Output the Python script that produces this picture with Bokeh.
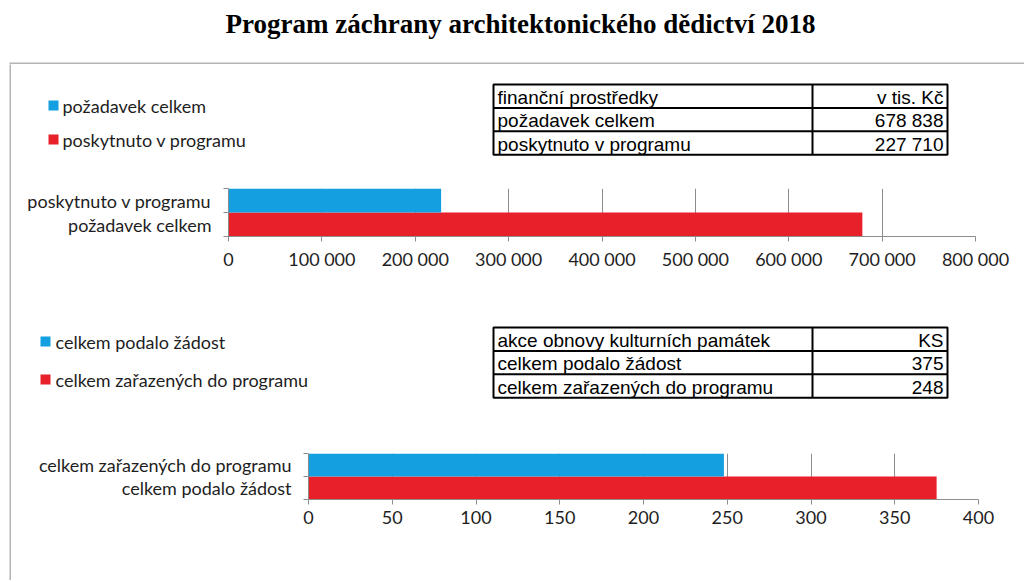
from bokeh.plotting import figure
from bokeh.layouts import column, row
from bokeh.models import Range1d, FixedTicker
from bokeh.core.properties import value
from bokeh.embed import file_html
from bokeh.resources import INLINE

# ---------------- data ----------------
TITLE = "Program záchrany architektonického dědictví 2018"

fin_categories = ["požadavek celkem", "poskytnuto v programu"]
fin_values = [678838, 227710]
fin_ticks = [0, 100000, 200000, 300000, 400000, 500000, 600000, 700000, 800000]
fin_legend = ["požadavek celkem", "poskytnuto v programu"]
fin_table_header = ["finanční prostředky", "v tis. Kč"]

ks_categories = ["celkem podalo žádost", "celkem zařazených do programu"]
ks_values = [375, 248]
ks_ticks = [0, 50, 100, 150, 200, 250, 300, 350, 400]
ks_legend = ["celkem podalo žádost", "celkem zařazených do programu"]
ks_table_header = ["akce obnovy kulturních památek", "KS"]

# ---------------- style ----------------
BLUE = "#139fe0"
RED = "#e8202a"
GRID = "#8c8c8c"
FRAME = "#b4b4b4"
LABEL_FONT = "Lato"
TABLE_FONT = "Liberation Sans"
LABEL_SIZE = "18px"
TABLE_SIZE = "19px"
TEXT_COLOR = "#1e1e1e"

W = 1024   # total layout width  (page px)
H = 580    # total layout height (page px)
X_IN = 11  # x where the content column starts (right of the frame line)
Y_TOP = 64  # y where the body starts (below the frame top line)


def fmt(v):
    return f"{v:,}".replace(",", " ")


def panel(x0, x1, y0, y1, fill="white"):
    p = figure(width=int(x1 - x0), height=int(y1 - y0),
               x_range=Range1d(x0, x1), y_range=Range1d(y1, y0),
               x_axis_type=None, y_axis_type=None, min_border=0,
               toolbar_location=None, output_backend="svg")
    p.grid.visible = False
    p.outline_line_color = None
    p.background_fill_color = fill
    p.border_fill_color = fill
    return p


def draw_legend(p, x_sq, x_txt, ys, labels):
    cols = [BLUE, RED]
    p.rect(x=[x_sq] * 2, y=ys, width=10, height=10, color=cols, line_color=None)
    p.text(x=[x_txt] * 2, y=ys, text=labels, text_baseline="middle",
           text_font=value(LABEL_FONT), text_font_size=LABEL_SIZE, text_color=TEXT_COLOR)


def draw_table(p, left, mid, right, top, row_h, header, cats, vals):
    ys = [top + row_h * i for i in range(4)]
    bottom = ys[-1]
    p.quad(left=left, right=right, top=top, bottom=bottom, fill_color=None,
           line_color="black", line_width=2)
    p.segment(x0=[left, left, mid], y0=[ys[1], ys[2], top],
              x1=[right, right, mid], y1=[ys[1], ys[2], bottom],
              line_color="black", line_width=2)
    lefts = [header[0]] + list(cats)
    rights = [header[1]] + [fmt(v) for v in vals]
    cy = [top + row_h * (i + 0.5) + 1 for i in range(3)]
    p.text(x=[left + 4] * 3, y=cy, text=lefts, text_baseline="middle",
           text_font=value(TABLE_FONT), text_font_size=TABLE_SIZE, text_color="black")
    p.text(x=[right - 4] * 3, y=cy, text=rights, text_baseline="middle", text_align="right",
           text_font=value(TABLE_FONT), text_font_size=TABLE_SIZE, text_color="black")


def bar_fig(cats, vals, ticks, frame_left, frame_right, y0, frame_bottom, y1):
    p = figure(width=W - X_IN, height=int(y1 - y0),
               x_range=Range1d(0, ticks[-1]), y_range=Range1d(0, len(cats)),
               min_border_left=frame_left - X_IN, min_border_right=W - frame_right,
               min_border_top=0, min_border_bottom=int(y1 - frame_bottom),
               toolbar_location=None, output_backend="svg")
    p.outline_line_color = None
    p.ygrid.visible = False
    p.xgrid.ticker = FixedTicker(ticks=ticks)
    p.xgrid.grid_line_color = GRID
    p.xgrid.grid_line_width = 1
    n = len(cats)
    ypos = [i + 0.5 for i in range(n)]
    p.hbar(y=ypos, left=0, right=vals, height=1.0, color=[RED, BLUE], line_color=None)

    xa = p.xaxis[0]
    xa.ticker = FixedTicker(ticks=ticks)
    xa.major_label_overrides = {t: fmt(t) for t in ticks}
    xa.axis_line_color = GRID
    xa.major_tick_line_color = GRID
    xa.major_tick_out = 5
    xa.major_tick_in = 0
    xa.minor_tick_line_color = None
    xa.major_label_standoff = 6
    xa.major_label_text_font = LABEL_FONT
    xa.major_label_text_font_size = LABEL_SIZE
    xa.major_label_text_color = TEXT_COLOR

    ya = p.yaxis[0]
    ya.ticker = FixedTicker(ticks=ypos, minor_ticks=list(range(n + 1)))
    ya.major_label_overrides = {yp: c for yp, c in zip(ypos, cats)}
    ya.axis_line_color = GRID
    ya.major_tick_line_color = None
    ya.major_tick_out = 0
    ya.major_tick_in = 0
    ya.minor_tick_line_color = GRID
    ya.minor_tick_out = 5
    ya.minor_tick_in = 0
    ya.major_label_standoff = 12
    ya.major_label_text_font = LABEL_FONT
    ya.major_label_text_font_size = LABEL_SIZE
    ya.major_label_text_color = TEXT_COLOR
    return p


# ---------------- layout positions (page px) ----------------
Y_BAR1_TOP, Y_BAR1_BOTTOM, Y_MID = 188, 236, 300
Y_BAR2_TOP, Y_BAR2_BOTTOM, Y_END = 453, 499, H

# title + top frame line
head = panel(0, W, 0, Y_TOP)
head.text(x=[520], y=[23], text=[TITLE], text_align="center", text_baseline="middle",
          text_font=value("Liberation Serif"), text_font_style="bold",
          text_font_size="27px", text_color="black")
head.segment(x0=[9], y0=[63], x1=[W], y1=[63], line_color=FRAME, line_width=2)

# left frame line (a filled 2px strip) with white pad on its left
pad = panel(0, 9, Y_TOP, H)
vline = panel(9, X_IN, Y_TOP, H, fill=FRAME)

# content column (each plot wrapped on its own so that frames are not aligned)
top_panel = panel(X_IN, W, Y_TOP, Y_BAR1_TOP)
draw_legend(top_panel, 53, 62, [105, 139], fin_legend)
draw_table(top_panel, 493, 812, 947, 84, 23.4, fin_table_header, fin_categories, fin_values)

bar1 = bar_fig(fin_categories, fin_values, fin_ticks, 228, 975, Y_BAR1_TOP, Y_BAR1_BOTTOM, Y_MID)

mid = panel(X_IN, W, Y_MID, Y_BAR2_TOP)
draw_legend(mid, 45, 55, [341, 379], ks_legend)
draw_table(mid, 493, 812, 947, 327, 23.4, ks_table_header, ks_categories, ks_values)

bar2 = bar_fig(ks_categories, ks_values, ks_ticks, 308, 978, Y_BAR2_TOP, Y_BAR2_BOTTOM, Y_END)

content = column(row(top_panel), row(bar1), row(mid), row(bar2), spacing=0)
body = row(pad, vline, content, spacing=0)
layout = column(head, body, spacing=0)

open("out.html", "w").write(file_html(layout, INLINE, title="Program záchrany architektonického dědictví 2018"))
